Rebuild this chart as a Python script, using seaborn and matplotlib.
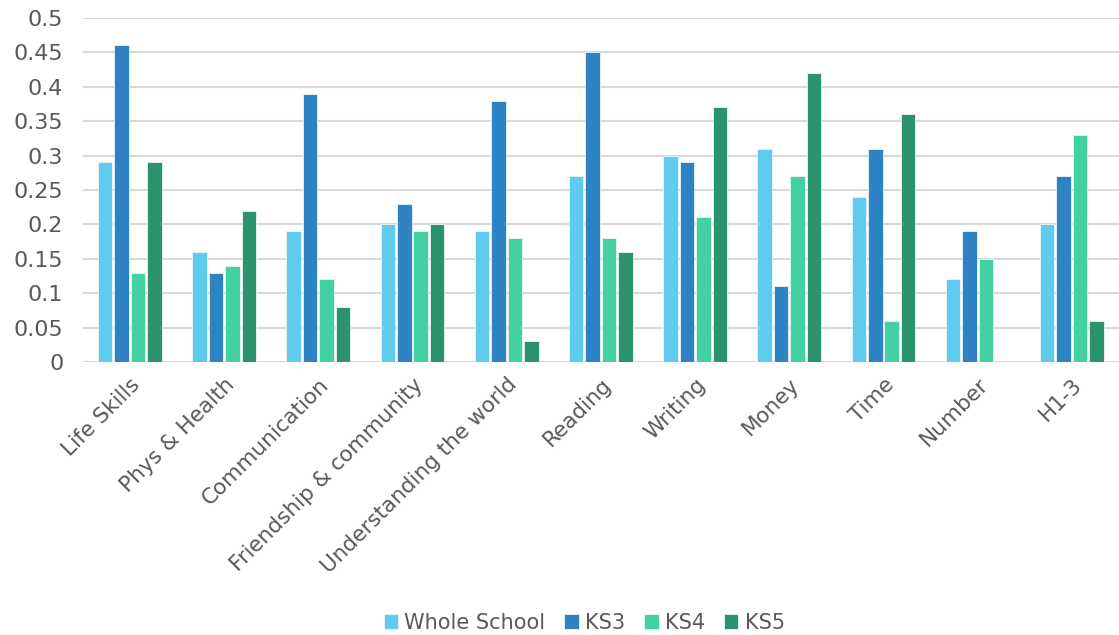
import numpy as np
import pandas as pd
import seaborn as sns
import matplotlib.pyplot as plt
from matplotlib.ticker import FuncFormatter, MultipleLocator

categories = ['Life Skills', 'Phys & Health', 'Communication', 'Friendship & community',
              'Understanding the world', 'Reading', 'Writing', 'Money', 'Time', 'Number', 'H1-3']
whole_school = [0.29, 0.16, 0.19, 0.20, 0.19, 0.27, 0.30, 0.31, 0.24, 0.12, 0.20]
ks3 = [0.46, 0.13, 0.39, 0.23, 0.38, 0.45, 0.29, 0.11, 0.31, 0.19, 0.27]
ks4 = [0.13, 0.14, 0.12, 0.19, 0.18, 0.18, 0.21, 0.27, 0.06, 0.15, 0.33]
ks5 = [0.29, 0.22, 0.08, 0.20, 0.03, 0.16, 0.37, 0.42, 0.36, 0.0, 0.06]
groups = ['Whole School', 'KS3', 'KS4', 'KS5']
colors = ['#5FCBEF', '#2E83C4', '#43D1A3', '#2C946D']

df = pd.DataFrame({'Whole School': whole_school, 'KS3': ks3, 'KS4': ks4, 'KS5': ks5},
                  index=categories)
long = df.reset_index().melt(id_vars='index', var_name='group', value_name='value')
long = long.rename(columns={'index': 'category'})

sns.set_style('white')
plt.rcParams['font.family'] = ['DejaVu Sans']
text_col = '#595959'

fig = plt.figure(figsize=(11.19, 6.35), dpi=100)
ax = fig.add_axes([0.074, 0.430, 0.926, 0.5417])

sns.barplot(data=long, x='category', y='value', hue='group', hue_order=groups,
            order=categories, palette=colors, saturation=1, width=0.7, gap=0.12,
            edgecolor='#EAF6F6', linewidth=0.6, ax=ax, zorder=3)

ax.set_ylim(0, 0.5)
ax.set_xlim(-0.5, len(categories) - 0.5)
ax.yaxis.set_major_locator(MultipleLocator(0.05))
ax.yaxis.set_major_formatter(FuncFormatter(lambda v, p: '%g' % round(v, 2)))
ax.grid(axis='y', color='#D9D9D9', linewidth=1.5, zorder=0)
ax.set_axisbelow(True)
for s in ax.spines.values():
    s.set_visible(False)
ax.set_xlabel('')
ax.set_ylabel('')
ax.tick_params(axis='both', length=0, colors=text_col)
ax.tick_params(axis='y', labelsize=16, pad=14)
ax.tick_params(axis='x', labelsize=15.5, pad=9)
plt.setp(ax.get_xticklabels(), rotation=45, ha='right', rotation_mode='anchor')

handles, labels = ax.get_legend_handles_labels()
ax.get_legend().remove()
fig.legend(handles, labels, loc='lower center', bbox_to_anchor=(0.522, -0.026), ncol=4,
           frameon=False, fontsize=15, labelcolor=text_col, handlelength=0.7, handleheight=0.7,
           handletextpad=0.3, columnspacing=0.9)

fig.savefig('out.png', dpi=100)
